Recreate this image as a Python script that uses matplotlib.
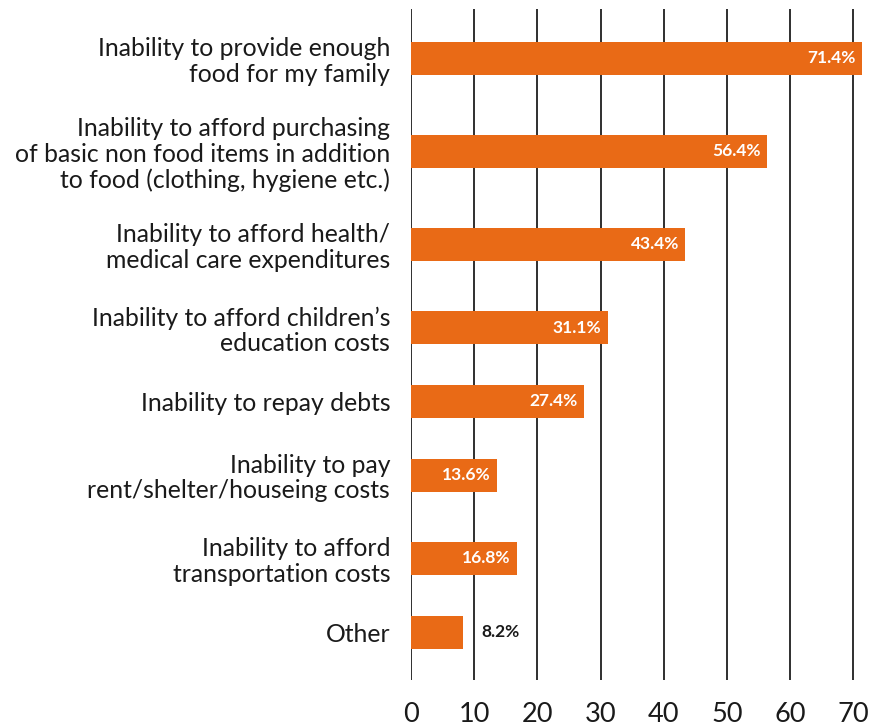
import matplotlib
matplotlib.use("Agg")
from matplotlib import pyplot as plt

reasons = [
    "Inability to provide enough\nfood for my family",
    "Inability to afford purchasing\nof basic non food items in addition\nto food (clothing, hygiene etc.)",
    "Inability to afford health/\nmedical care expenditures",
    "Inability to afford children\u2019s\neducation costs",
    "Inability to repay debts",
    "Inability to pay\nrent/shelter/houseing costs",
    "Inability to afford\ntransportation costs",
    "Other",
]
shares = [71.4, 56.4, 43.4, 31.1, 27.4, 13.6, 16.8, 8.2]
x_ticks = [0, 10, 20, 30, 40, 50, 60, 70]

BAR_COLOR = "#E96A16"
plt.rcParams["font.family"] = ["Lato", "DejaVu Sans"]

# rows with longer labels get a bit more room
lines = [r.count("\n") + 1 for r in reasons]
ypos = [0.0]
for a, b in zip(lines[:-1], lines[1:]):
    ypos.append(ypos[-1] + 44.7 + 9.7 * (a + b))

fig = plt.figure(figsize=(8.7, 7.27), dpi=100)
ax = fig.add_axes([411 / 870, 1 - 680 / 727, (866 - 411) / 870, 671 / 727])

ax.barh(ypos, shares, height=33, color=BAR_COLOR, zorder=3)
ax.set_xlim(0, 72)
ax.set_ylim(ypos[-1] + 48, -49.5)

ax.set_xticks(x_ticks)
ax.set_xticklabels([str(t) for t in x_ticks], fontsize=19.5, color="#1a1a1a")
ax.set_yticks(ypos)
ax.set_yticklabels(reasons, fontsize=17.8, color="#1a1a1a", linespacing=1.12)
ax.tick_params(axis="x", length=0, pad=16)
ax.tick_params(axis="y", length=0, pad=15)

ax.grid(axis="x", color="#1f1f1f", linewidth=1.3, zorder=0)
ax.grid(axis="y", visible=False)
for s in ax.spines.values():
    s.set_visible(False)

for y, v in zip(ypos, shares):
    label = f"{v}%"
    if v > 10:
        ax.text(v - 1.0, y, label, ha="right", va="center", color="white",
                fontsize=12.5, fontweight="bold", zorder=4)
    else:
        ax.text(v + 3.0, y, label, ha="left", va="center", color="#1a1a1a",
                fontsize=12.5, fontweight="bold", zorder=4)

fig.savefig("out.png", dpi=100)
